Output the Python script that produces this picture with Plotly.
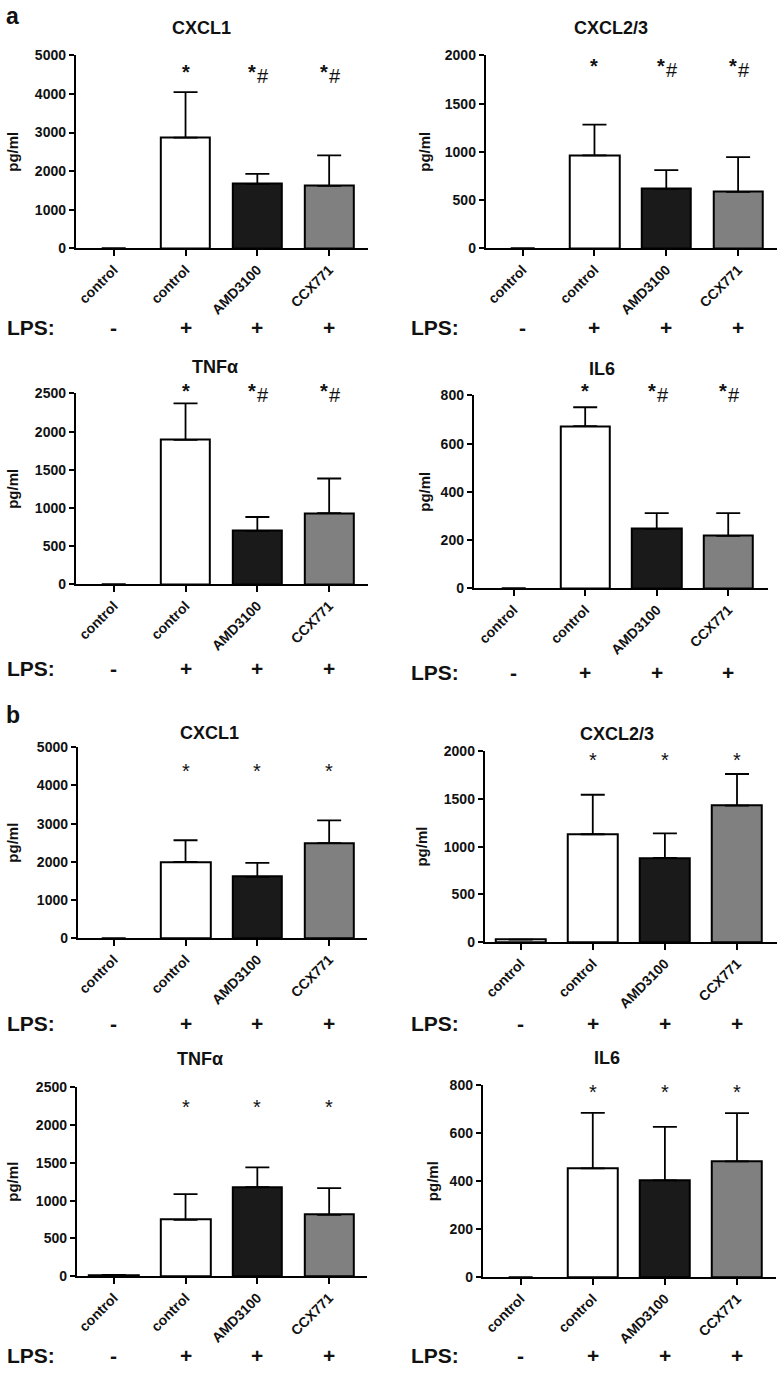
import plotly.graph_objects as go

W, H = 777, 1380
FONT = "Liberation Sans, Arial, Helvetica, sans-serif"

# ---------------- data ----------------
groups = ["control", "control", "AMD3100", "CCX771"]
lps_signs = ["-", "+", "+", "+"]
bar_fills = ["#ffffff", "#ffffff", "#1a1a1a", "#808080"]

# panel a
a_cxcl1 = [0, 2870, 1670, 1615]
a_cxcl1_sem = [0, 1180, 256, 795]
a_cxcl23 = [0, 964, 615, 585]
a_cxcl23_sem = [0, 318, 195, 359]
a_tnfa = [0, 1891, 700, 933]
a_tnfa_sem = [0, 479, 181, 453]
a_il6 = [0, 673, 246, 217]
a_il6_sem = [0, 78, 66, 95]
a_marks = ["", "*", "*#", "*#"]

# panel b
b_cxcl1 = [0, 1995, 1606, 2487]
b_cxcl1_sem = [0, 570, 363, 596]
b_cxcl23 = [25, 1130, 881, 1430]
b_cxcl23_sem = [0, 414, 259, 332]
b_tnfa = [15, 746, 1178, 812]
b_tnfa_sem = [0, 340, 262, 353]
b_il6 = [0, 454, 404, 483]
b_il6_sem = [0, 231, 223, 201]
b_marks = ["", "*", "*", "*"]

titles = ["CXCL1", "CXCL2/3", "TNF\u03b1", "IL6", "CXCL1", "CXCL2/3", "TNF\u03b1", "IL6"]
y_max = [5000, 2000, 2500, 800, 5000, 2000, 2500, 800]
y_step = [1000, 500, 500, 200, 1000, 500, 500, 200]

values = [a_cxcl1, a_cxcl23, a_tnfa, a_il6, b_cxcl1, b_cxcl23, b_tnfa, b_il6]
sems = [a_cxcl1_sem, a_cxcl23_sem, a_tnfa_sem, a_il6_sem,
        b_cxcl1_sem, b_cxcl23_sem, b_tnfa_sem, b_il6_sem]
marks = [a_marks] * 4 + [b_marks] * 4
mark_frac = [0.94, 0.97, 1.04, 1.05, 0.90, 0.98, 0.92, 0.99]

# ---------------- layout geometry (pixels) ----------------
geom = [
    dict(x0=74, x1=367, t0=112, sp=72.0, yt=48, yb=243, tx=200, ty=20, lx=11, ly=323, lr=55),
    dict(x0=485, x1=777, t0=522, sp=72.0, yt=48, yb=243, tx=611, ty=20, lx=424, ly=323, lr=460),
    dict(x0=74, x1=367, t0=112, sp=72.0, yt=390, yb=583, tx=214, ty=363, lx=11, ly=668, lr=55),
    dict(x0=473, x1=768, t0=513, sp=71.7, yt=392, yb=587, tx=602, ty=365, lx=424, ly=672, lr=460),
    dict(x0=76, x1=366, t0=112, sp=72.0, yt=748, yb=941, tx=208, ty=733, lx=11, ly=1027, lr=55),
    dict(x0=484, x1=777, t0=520, sp=72.3, yt=752, yb=945, tx=617, ty=735, lx=421, ly=1027, lr=460),
    dict(x0=75, x1=366, t0=112, sp=72.0, yt=1092, yb=1283, tx=199, ty=1063, lx=11, ly=1363, lr=55),
    dict(x0=482, x1=776, t0=520, sp=72.3, yt=1090, yb=1284, tx=607, ty=1062, lx=431, ly=1363, lr=460),
]

fig = go.Figure()
annotations = []
xpos = list(range(len(groups)))
INK = "#111111"

for k in range(8):
    g = geom[k]
    sfx = "" if k == 0 else str(k + 1)
    xa, ya = "x" + sfx, "y" + sfx
    vals = values[k]
    errs = [e if e > 0 else None for e in sems[k]]
    fig.add_trace(go.Bar(
        x=xpos, y=vals, xaxis=xa, yaxis=ya, width=0.69,
        marker=dict(color=bar_fills,
                    line=dict(color="#000000", width=[2 if v > 0 else 0 for v in vals])),
        error_y=dict(type="data", symmetric=False, array=errs,
                     arrayminus=[0] * len(errs), color="#000000",
                     thickness=1.8, width=12, visible=True),
        showlegend=False, hoverinfo="skip",
    ))
    xr = [(g["x0"] - g["t0"]) / g["sp"], (g["x1"] - g["t0"]) / g["sp"]]
    xdom = [g["x0"] / W, g["x1"] / W]
    ydom = [1 - g["yb"] / H, 1 - g["yt"] / H]
    fig.layout["xaxis" + sfx] = dict(
        domain=xdom, range=xr, anchor=ya, showline=True, linewidth=2, linecolor="#000",
        ticks="outside", ticklen=6, tickwidth=2, tickcolor="#000",
        tickvals=xpos, ticktext=groups, tickangle=-45, showgrid=False, zeroline=False,
        tickfont=dict(family=FONT, size=14, color=INK, weight="bold"),
        fixedrange=True,
    )
    fig.layout["yaxis" + sfx] = dict(
        domain=ydom, range=[0, y_max[k]], anchor=xa, showline=True, linewidth=2,
        linecolor="#000", ticks="outside", ticklen=5, tickwidth=2, tickcolor="#000",
        tick0=0, dtick=y_step[k], showgrid=False, zeroline=False,
        tickfont=dict(family=FONT, size=14, color=INK, weight="bold"),
        fixedrange=True,
    )
    # title
    annotations.append(dict(
        text="<b>" + titles[k] + "</b>", xref="paper", yref="paper",
        x=g["tx"] / W, y=1 - g["ty"] / H, xanchor="center", yanchor="middle",
        showarrow=False, font=dict(family=FONT, size=18, color=INK)))
    # y label
    annotations.append(dict(
        text="<b>pg/ml</b>", xref="paper", yref="paper", textangle=-90,
        x=g["lx"] / W, y=1 - (g["yt"] + g["yb"]) / 2 / H, xanchor="center", yanchor="middle",
        showarrow=False, font=dict(family=FONT, size=15, color=INK)))
    # LPS row
    annotations.append(dict(
        text="<b>LPS:</b>", xref="paper", yref="paper",
        x=g["lr"] / W, y=1 - g["ly"] / H, xanchor="right", yanchor="middle",
        showarrow=False, font=dict(family=FONT, size=21, color=INK)))
    for i, s in enumerate(lps_signs):
        annotations.append(dict(
            text="<b>" + s + "</b>", xref=xa, yref="paper",
            x=i, y=1 - g["ly"] / H, xanchor="center", yanchor="middle",
            showarrow=False, font=dict(family=FONT, size=21, color=INK)))
    # significance marks (placed in axis-domain units so they may sit above the top tick)
    fsz = 20
    wt = "bold" if k < 4 else "normal"
    for i, m in enumerate(marks[k]):
        if not m:
            continue
        ymark = mark_frac[k]
        if m == "*":
            annotations.append(dict(
                text="*", xref=xa, yref=ya + " domain", x=i, y=ymark, xanchor="center",
                yanchor="middle", yshift=-5, showarrow=False,
                font=dict(family=FONT, size=fsz, color=INK, weight=wt)))
        else:
            annotations.append(dict(
                text="*", xref=xa, yref=ya + " domain", x=i, y=ymark, xanchor="center",
                yanchor="middle", xshift=-5, yshift=-5, showarrow=False,
                font=dict(family=FONT, size=fsz, color=INK, weight=wt)))
            annotations.append(dict(
                text="#", xref=xa, yref=ya + " domain", x=i, y=ymark, xanchor="center",
                yanchor="middle", xshift=6, yshift=-9, showarrow=False,
                font=dict(family=FONT, size=fsz, color=INK)))

# panel letters
annotations.append(dict(text="<b>a</b>", xref="paper", yref="paper", x=2 / W, y=1 - 8 / H,
                        xanchor="left", yanchor="middle", showarrow=False,
                        font=dict(family=FONT, size=23, color=INK)))
annotations.append(dict(text="<b>b</b>", xref="paper", yref="paper", x=2 / W, y=1 - 715 / H,
                        xanchor="left", yanchor="middle", showarrow=False,
                        font=dict(family=FONT, size=23, color=INK)))

fig.update_layout(
    width=W, height=H, margin=dict(l=0, r=0, t=0, b=0),
    paper_bgcolor="#ffffff", plot_bgcolor="#ffffff",
    annotations=annotations, bargap=0, showlegend=False,
    font=dict(family=FONT, color=INK),
)

fig.write_html("out.html", config={"displayModeBar": False},
               post_script="document.body.style.margin='0';document.body.style.overflow='hidden';")
